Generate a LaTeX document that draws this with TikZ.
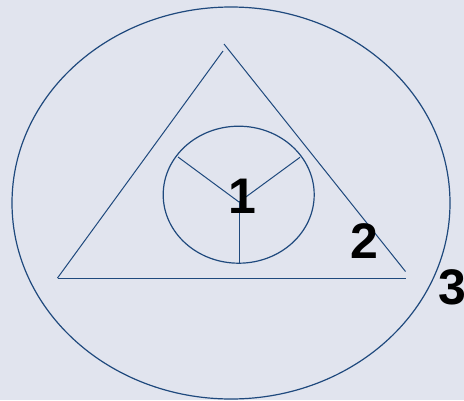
\documentclass[tikz,border=0pt]{standalone}
\usepackage{fontspec}
\setmainfont{Liberation Sans}
\usetikzlibrary{shapes.geometric}
\definecolor{bgc}{RGB}{225,228,238}
\definecolor{ink}{RGB}{31,73,125}
\begin{document}
\begin{tikzpicture}[x=0.75pt,y=-0.75pt,
  oval/.style={draw=ink,line width=0.9pt,ellipse,inner sep=0pt,outer sep=0pt},
  edge/.style={draw=ink,line width=0.75pt},
  num/.style={font=\fontsize{37.5pt}{40pt}\selectfont\bfseries,inner sep=0pt,anchor=base,text=black}]
\fill[bgc] (0,0) rectangle (464,400);
\useasboundingbox (0,0) rectangle (464,400);
% outer ellipse
\node[oval,minimum width=328.5pt,minimum height=294pt] (outer) at (231,203) {};
% triangle
\coordinate (tl) at (223,51);
\coordinate (tr) at (224,44);
\coordinate (bl) at (57.5,278);
\coordinate (br) at (405.5,278);
\coordinate (rr) at (405.5,271.5);
\draw[edge] (bl) -- (tl);
\draw[edge] (tr) -- (rr);
\draw[edge] (bl) -- (br);
% inner ellipse
\node[oval,minimum width=113.25pt,minimum height=102.75pt] (inner) at (238.7,194.7) {};
\coordinate (hub) at (239,202);
\coordinate (sl) at (178,157);
\coordinate (sr) at (300,157.3);
\coordinate (sb) at (239,263.5);
\draw[edge] (hub) -- (sl);
\draw[edge] (hub) -- (sr);
\draw[edge] (hub) -- (sb);
% labels
\node[num] (n1) at (242,213) {1};
\node[num] (n2) at (364,258) {2};
\node[num] (n3) at (452.5,304) {3};
\end{tikzpicture}
\end{document}
